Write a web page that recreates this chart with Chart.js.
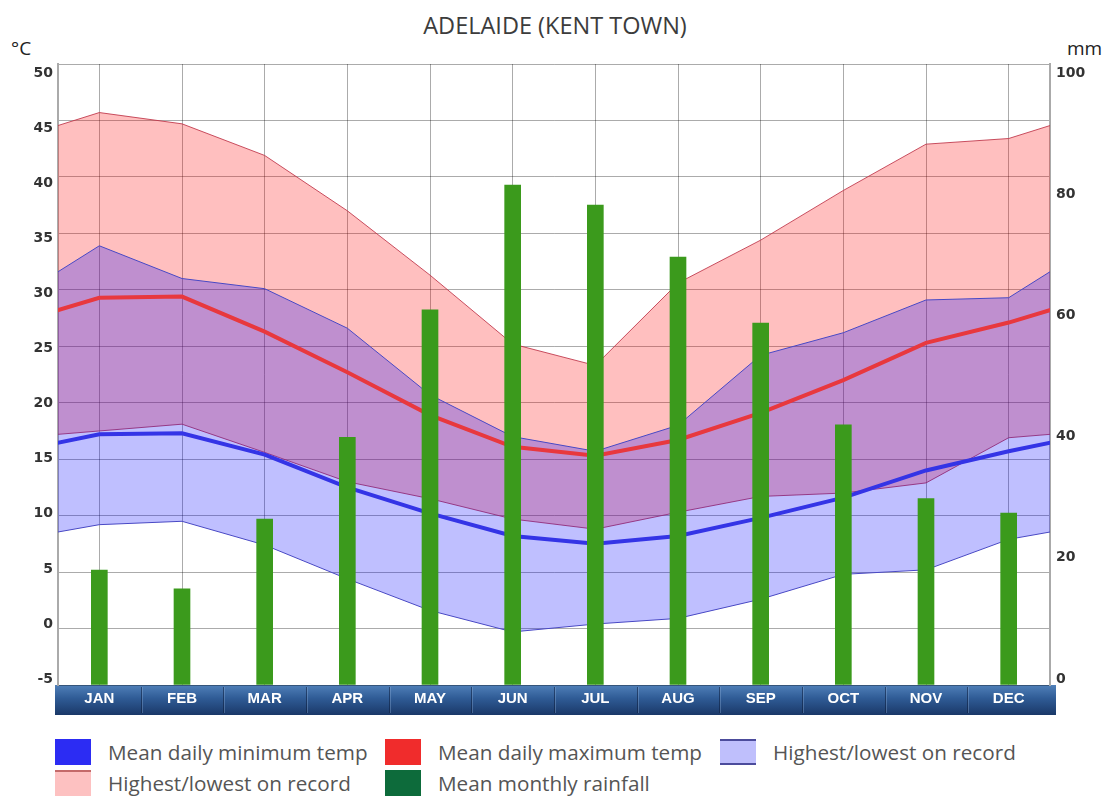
<!DOCTYPE html>
<html>
<head>
<meta charset="utf-8">
<title>Adelaide (Kent Town) climate</title>
<script src="https://cdn.jsdelivr.net/npm/chart.js@4.4.1/dist/chart.umd.min.js"></script>
<style>
  body { margin: 0; background: #fff; }
  #wrap { position: relative; width: 1102px; height: 797px; overflow: hidden; font-family: 'Open Sans', sans-serif; }
  #chart { position: absolute; left: 0; top: 0; }
  #title { position: absolute; left: 0; width: 1110px; top: 10px; text-align: center; font-size: 23.5px; line-height: 30px; color: #3c3c3c; }
  .unit { position: absolute; top: 36px; font-size: 19px; line-height: 24px; color: #222; }
  #unit-c { left: 11px; }
  #unit-mm { left: 1067px; }
  #legend { position: absolute; left: 55px; top: 739px; display: grid; grid-template-columns: 330px 335px auto; row-gap: 5px; }
  .item { display: flex; align-items: center; height: 26px; }
  .swatch { width: 36px; height: 26px; box-sizing: border-box; margin-right: 17px; }
  .item span { font-size: 20.7px; color: #555; white-space: nowrap; }
</style>
</head>
<body>
<div id="wrap">
  <div id="title">ADELAIDE (KENT TOWN)</div>
  <div class="unit" id="unit-c">°C</div>
  <div class="unit" id="unit-mm">mm</div>
  <canvas id="chart" width="1102" height="720"></canvas>
  <div id="legend"></div>
</div>
<script>
'use strict';

// monthly values
let months = ['JAN', 'FEB', 'MAR', 'APR', 'MAY', 'JUN', 'JUL', 'AUG', 'SEP', 'OCT', 'NOV', 'DEC'];
let meanMin = [17.2, 17.3, 15.4, 12.5, 10.2, 8.2, 7.5, 8.2, 9.8, 11.6, 14.0, 15.7];
let meanMax = [29.3, 29.4, 26.3, 22.7, 18.9, 16.1, 15.3, 16.7, 19.1, 22.0, 25.3, 27.1];
let recordLowMin = [9.2, 9.5, 7.4, 4.4, 1.6, -0.3, 0.4, 0.9, 2.6, 4.8, 5.2, 7.9];
let recordHighMin = [33.9, 31.0, 30.1, 26.6, 20.7, 17.0, 15.7, 18.0, 24.2, 26.2, 29.1, 29.3];
let recordLowMax = [17.5, 18.1, 15.6, 13.0, 11.5, 9.7, 8.8, 10.3, 11.7, 12.0, 12.9, 16.9];
let recordHighMax = [45.7, 44.7, 41.9, 37.0, 31.3, 25.2, 23.3, 30.6, 34.4, 38.8, 42.9, 43.4];
let rainfall = [18.5, 15.5, 26.7, 39.9, 60.4, 80.5, 77.3, 68.9, 58.3, 41.9, 30.0, 27.7];

let tempTicks = [-5, 0, 5, 10, 15, 20, 25, 30, 35, 40, 45, 50];
let rainTicks = [0, 20, 40, 60, 80, 100];

let legendItems = [
  {label: 'Mean daily minimum temp', fill: '#2c2cf3'},
  {label: 'Mean daily maximum temp', fill: '#f02c2c'},
  {label: 'Highest/lowest on record', fill: '#bfbffc', edge: '#4c4c9c', sides: ['top', 'bottom']},
  {label: 'Highest/lowest on record', fill: '#fdc1c1', edge: '#c46a6a', sides: ['top']},
  {label: 'Mean monthly rainfall', fill: '#0d6b3b'}
];

// the year wraps round: DEC sits before JAN and JAN after DEC, clipped at the edges
function wrapSeries(values) {
  let pts = [{x: -1, y: values[values.length - 1]}];
  values.forEach(function(v, i) { pts.push({x: i, y: v}); });
  pts.push({x: values.length, y: values[0]});
  return pts;
}

function fixWidth(w) {
  return function(scale) { scale.width = w; };
}

function setTicks(list) {
  return function(scale) { scale.ticks = list.map(v => ({value: v})); };
}

// blue band behind the month names
let monthBand = {
  id: 'monthBand',
  beforeDraw(chart) {
    let ctx = chart.ctx;
    let area = chart.chartArea;
    let xs = chart.scales.x;
    let top = area.bottom, bottom = area.bottom + 30;
    let left = area.left - 3, right = area.right + 6;
    let g = ctx.createLinearGradient(0, top, 0, bottom);
    g.addColorStop(0, '#5080b9');
    g.addColorStop(0.45, '#2f5b95');
    g.addColorStop(1, '#1a3868');
    ctx.save();
    ctx.fillStyle = g;
    ctx.fillRect(left, top, right - left, bottom - top);
    for (let i = 0; i < months.length - 1; i++) {
      let px = Math.round(xs.getPixelForValue(i + 0.5));
      ctx.fillStyle = 'rgba(12,30,60,0.55)';
      ctx.fillRect(px, top + 2, 1, bottom - top - 4);
      ctx.fillStyle = 'rgba(150,180,220,0.35)';
      ctx.fillRect(px + 1, top + 2, 1, bottom - top - 4);
    }
    ctx.restore();
  }
};

document.addEventListener('DOMContentLoaded', function() {

  let canvasElem = document.getElementById('chart');

  let lineBase = {type: 'line', xAxisID: 'x', yAxisID: 'y', pointRadius: 0, tension: 0};

  let chartData = {
    datasets: [
      {
        type: 'bar', label: 'Mean monthly rainfall', xAxisID: 'x', yAxisID: 'rain', order: 0,
        data: rainfall.map((v, i) => ({x: i, y: v})),
        backgroundColor: '#3b9a1c', barThickness: 16
      },
      Object.assign({}, lineBase, {
        label: 'Mean daily minimum temp', order: 1, data: wrapSeries(meanMin),
        borderColor: '#3434e6', borderWidth: 4, fill: false
      }),
      Object.assign({}, lineBase, {
        label: 'Mean daily maximum temp', order: 1, data: wrapSeries(meanMax),
        borderColor: '#e8383e', borderWidth: 4, fill: false
      }),
      Object.assign({}, lineBase, {
        label: 'Lowest minimum', order: 3, data: wrapSeries(recordLowMin),
        borderColor: '#4848c4', borderWidth: 1, fill: false
      }),
      Object.assign({}, lineBase, {
        label: 'Highest minimum', order: 3, data: wrapSeries(recordHighMin),
        borderColor: '#4848c4', borderWidth: 1, fill: '-1', backgroundColor: 'rgba(0,0,255,0.25)'
      }),
      Object.assign({}, lineBase, {
        label: 'Lowest maximum', order: 4, data: wrapSeries(recordLowMax),
        borderColor: 'rgba(190,50,70,0.85)', borderWidth: 1, fill: false
      }),
      Object.assign({}, lineBase, {
        label: 'Highest maximum', order: 4, data: wrapSeries(recordHighMax),
        borderColor: 'rgba(190,50,70,0.85)', borderWidth: 1, fill: '-1', backgroundColor: 'rgba(255,0,0,0.25)'
      })
    ]
  };

  let gridColor = 'rgba(0,0,0,0.33)';
  let tickFont = {family: "'DejaVu Sans', sans-serif", size: 14, weight: 'bold'};

  let chartConfig = {
    type: 'bar',
    data: chartData,
    plugins: [monthBand],
    options: {
      responsive: false,
      animation: false,
      events: [],
      layout: {padding: {top: 64, left: 0, right: 0, bottom: 0}},
      plugins: {legend: {display: false}, title: {display: false}, tooltip: {enabled: false}},
      scales: {
        x: {
          type: 'linear', min: -0.5, max: 11.5, offset: false,
          afterBuildTicks: setTicks(months.map((m, i) => i)),
          afterFit: function(scale) { scale.height = 35; },
          grid: {color: gridColor, offset: false, drawTicks: false},
          border: {display: false},
          ticks: {
            padding: 5, color: '#ffffff', maxRotation: 0, autoSkip: false,
            font: {family: "'Liberation Sans', Arial, sans-serif", size: 15, weight: 'bold'},
            callback: v => months[v]
          }
        },
        // temperature scale: grid and bands
        y: {
          type: 'linear', position: 'left', min: -5, max: 50, weight: 0,
          afterBuildTicks: setTicks(tempTicks),
          afterFit: fixWidth(0),
          grid: {color: gridColor, drawTicks: false},
          border: {display: true, color: '#aaaaaa', width: 2},
          ticks: {display: false}
        },
        // temperature labels, spaced as in the picture
        yLabels: {
          type: 'linear', position: 'left', min: -5.54, max: 50.82, weight: 1,
          afterBuildTicks: setTicks(tempTicks),
          afterFit: fixWidth(58),
          grid: {display: false, drawTicks: false},
          border: {display: false},
          ticks: {padding: 5, color: '#333333', font: tickFont}
        },
        rain: {
          type: 'linear', position: 'right', min: 0, max: 100, weight: 0,
          afterBuildTicks: setTicks(rainTicks),
          afterFit: fixWidth(0),
          grid: {drawOnChartArea: false, drawTicks: false},
          border: {display: true, color: '#aaaaaa', width: 2},
          ticks: {display: false}
        },
        rainLabels: {
          type: 'linear', position: 'right', min: -0.99, max: 101.49, weight: 1,
          afterBuildTicks: setTicks(rainTicks),
          afterFit: fixWidth(52),
          grid: {display: false, drawTicks: false},
          border: {display: false},
          ticks: {padding: 6, color: '#333333', font: tickFont}
        }
      }
    }
  };

  new Chart(canvasElem, chartConfig);

  // legend
  let legendElem = document.getElementById('legend');
  legendItems.forEach(function(item) {
    let row = document.createElement('div');
    row.className = 'item';
    let sw = document.createElement('div');
    sw.className = 'swatch';
    sw.style.background = item.fill;
    (item.sides || []).forEach(function(side) {
      sw.style['border-' + side] = '2px solid ' + item.edge;
    });
    let txt = document.createElement('span');
    txt.textContent = item.label;
    row.appendChild(sw);
    row.appendChild(txt);
    legendElem.appendChild(row);
  });
});
</script>
</body>
</html>
